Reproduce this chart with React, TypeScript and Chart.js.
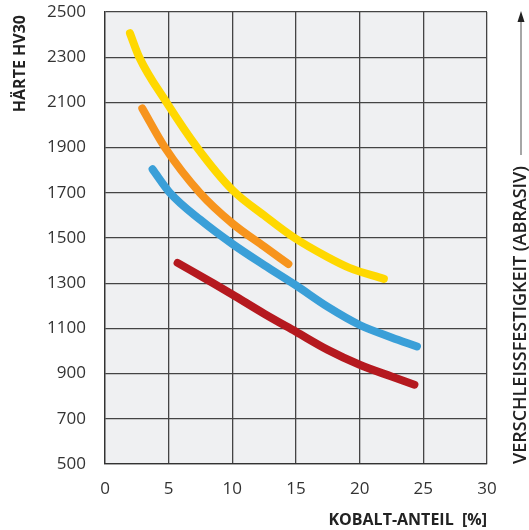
import React, { useEffect, useRef } from "react";
import { Chart, registerables } from "chart.js";

Chart.register(...registerables);

const xTicks = [0, 5, 10, 15, 20, 25, 30];
const yTicks = [500, 700, 900, 1100, 1300, 1500, 1700, 1900, 2100, 2300, 2500];

const yellowX = [1.96, 2.69, 4.83, 7.24, 10.05, 12.5, 14.9, 17.5, 19.2, 21.9];
const yellowY = [2406, 2300, 2100, 1900, 1710, 1600, 1500, 1415, 1368, 1319];

const orangeX = [2.93, 4.71, 7.45, 10.0, 12.5, 14.4];
const orangeY = [2073, 1900, 1700, 1565, 1462, 1385];

const blueX = [3.74, 5.1, 7.5, 10.0, 12.5, 15.0, 17.5, 20.0, 22.5, 24.5];
const blueY = [1804, 1700, 1580, 1474, 1380, 1290, 1195, 1115, 1060, 1020];

const redX = [5.7, 8.5, 10.0, 12.5, 15.0, 17.5, 20.0, 22.5, 24.3];
const redY = [1390, 1300, 1250, 1165, 1085, 1005, 939, 887, 851];

const seriesColors = ["#FFD800", "#F7941D", "#3A9FD8", "#B5191F"];

const AXIS_TITLE_Y = "HÄRTE HV30";
const AXIS_TITLE_X = "KOBALT-ANTEIL  [%]";
const RIGHT_LABEL = "VERSCHLEISSFESTIGKEIT (ABRASIV)";

const toPts = (xs: number[], ys: number[]) => xs.map((x, i) => ({ x, y: ys[i] }));

export default function App() {
  const ref = useRef<HTMLCanvasElement | null>(null);

  useEffect(() => {
    if (!ref.current) return;
    const bgPlugin = {
      id: "bgArea",
      beforeDraw(chart: any) {
        const { ctx, chartArea } = chart;
        ctx.save();
        ctx.fillStyle = "#EFF0F2";
        ctx.fillRect(chartArea.left, chartArea.top, chartArea.right - chartArea.left, chartArea.bottom - chartArea.top);
        ctx.restore();
      },
      afterDraw(chart: any) {
        const { ctx } = chart;
        ctx.save();
        ctx.strokeStyle = "#888";
        ctx.fillStyle = "#222";
        ctx.lineWidth = 1.5;
        ctx.beginPath();
        ctx.moveTo(521, 155);
        ctx.lineTo(521, 20);
        ctx.stroke();
        ctx.beginPath();
        ctx.moveTo(521, 11);
        ctx.lineTo(517.5, 22);
        ctx.lineTo(524.5, 22);
        ctx.closePath();
        ctx.fill();
        ctx.restore();

        ctx.save();
        ctx.translate(521, 464);
        ctx.rotate(-Math.PI / 2);
        ctx.font = "600 18px 'Open Sans'";
        ctx.fillStyle = "#222";
        ctx.textAlign = "left";
        ctx.textBaseline = "middle";
        ctx.fillText(RIGHT_LABEL, 0, 0);
        ctx.restore();

        ctx.save();
        ctx.translate(20, 15);
        ctx.rotate(-Math.PI / 2);
        ctx.font = "bold 16px 'Open Sans'";
        ctx.fillStyle = "#222";
        ctx.textAlign = "right";
        ctx.textBaseline = "middle";
        ctx.fillText(AXIS_TITLE_Y, 0, 0);
        ctx.restore();
      },
    };

    const mk = (xs: number[], ys: number[], c: string) => ({
      data: toPts(xs, ys),
      borderColor: c,
      backgroundColor: c,
      borderWidth: 8,
      borderCapStyle: "round" as const,
      borderJoinStyle: "round" as const,
      pointRadius: 0,
      cubicInterpolationMode: "monotone" as const,
      fill: false,
    });

    const chart = new Chart(ref.current, {
      type: "line",
      data: {
        datasets: [
          mk(yellowX, yellowY, seriesColors[0]),
          mk(orangeX, orangeY, seriesColors[1]),
          mk(blueX, blueY, seriesColors[2]),
          mk(redX, redY, seriesColors[3]),
        ],
      },
      options: {
        animation: false,
        responsive: false,
        devicePixelRatio: 1,
        layout: { padding: { top: 12, right: 42, left: 0, bottom: 0 } },
        plugins: { legend: { display: false }, tooltip: { enabled: false } },
        scales: {
          x: {
            type: "linear",
            min: 0,
            max: 30,
            afterBuildTicks(scale: any) {
              scale.ticks = xTicks.map((v) => ({ value: v }));
            },
            afterFit(scale: any) {
              scale.height = 530 - 464;
              scale.paddingLeft = 0;
              scale.paddingRight = 0;
            },
            grid: { color: "#444", lineWidth: 1.3, drawTicks: false },
            border: { color: "#333", width: 1.3 },
            ticks: {
              color: "#333",
              padding: 15,
              font: { family: "'Open Sans'", size: 17 },
              callback: (v: any) => String(v),
            },
            title: {
              display: true,
              text: AXIS_TITLE_X,
              align: "end",
              color: "#222",
              padding: { top: 4, bottom: 0 },
              font: { family: "'Open Sans'", size: 16, weight: "bold" },
            },
          },
          y: {
            type: "linear",
            min: 500,
            max: 2500,
            afterBuildTicks(scale: any) {
              scale.ticks = yTicks.map((v) => ({ value: v }));
            },
            afterFit(scale: any) {
              scale.width = 105;
              scale.paddingTop = 0;
              scale.paddingBottom = 0;
            },
            grid: { color: "#444", lineWidth: 1.3, drawTicks: false },
            border: { color: "#333", width: 1.3 },
            ticks: {
              color: "#333",
              padding: 19,
              font: { family: "'Open Sans'", size: 17 },
              callback: (v: any) => String(v),
            },
            title: { display: false },
          },
        },
      },
      plugins: [bgPlugin],
    } as any);
    return () => chart.destroy();
  }, []);

  return (
    <div style={{ position: "absolute", left: 0, top: 0, width: 529, height: 530, background: "#fff" }}>
      <canvas ref={ref} width={529} height={530} style={{ width: 529, height: 530 }} />
    </div>
  );
}
